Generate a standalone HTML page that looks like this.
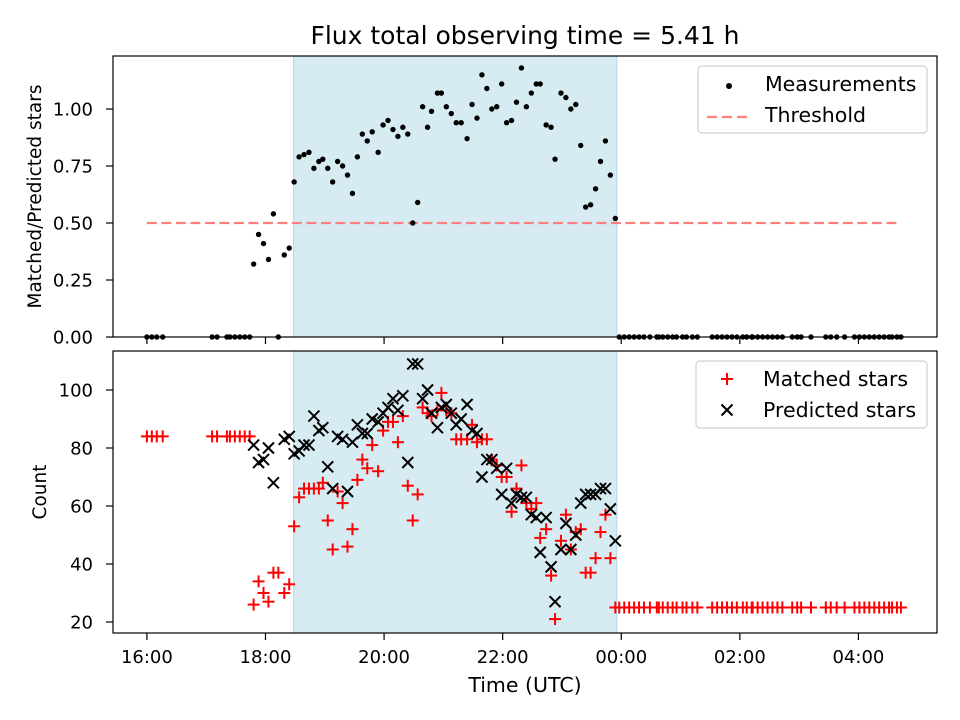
<!DOCTYPE html>
<html><head><meta charset="utf-8">
<style>
body{margin:0;background:#fff;}
svg{display:block;font-family:"DejaVu Sans","Liberation Sans",sans-serif;}
</style></head>
<body>
<svg id="chart" width="960" height="720" viewBox="0 0 960 720" xmlns="http://www.w3.org/2000/svg">
<rect width="960" height="720" fill="#fff"/>
<text x="525" y="44" font-size="25" text-anchor="middle">Flux total observing time = 5.41 h</text>
<g id="topPanel"></g>
<g id="bottomPanel"></g>
</svg>
<script>
// minutes since 16:00
const preTimes = [0,5,10,16,66,71,81,84,89,94,99,104];
const preMatched = [84,84,84,84,84,84,84,84,84,84,84,84];
const nightTimes = [108,113,118,123,128,133,139,144,149,154,159,164,169,174,178,183,188,193,198,203,208,213,218,223,228,234,239,244,249,254,259,264,269,274,279,284,288,294,298,303,308,313,318,324,329,334,339,344,349,354,359,364,369,374,379,384,389,394,398,404,409,413,419,424,429,434,439,444,449,454,459,464,469,474];
const nightRatio = [0.32,0.45,0.41,0.34,0.54,0,0.36,0.39,0.68,0.79,0.80,0.81,0.74,0.77,0.78,0.74,0.68,0.77,0.75,0.71,0.63,0.79,0.89,0.86,0.90,0.81,0.93,0.95,0.91,0.88,0.92,0.89,0.50,0.59,1.01,0.92,0.99,1.07,1.07,1.01,0.98,0.94,0.94,0.87,1.02,0.96,1.15,1.09,1.00,1.01,1.11,0.94,0.95,1.03,1.18,1.01,1.07,1.11,1.11,0.93,0.92,0.78,1.07,1.05,1.00,1.02,0.84,0.57,0.58,0.65,0.77,0.86,0.71,0.52];
const nightMatched = [26,34,30,27,37,37,30,33,53,63,66,66,66,66,68,55,45,65,61,46,52,69,76,73,81,72,86,89,89,82,91,67,55,64,94,92,91,93,99,93,92,83,83,83,88,82,83,83,76,74,70,70,58,66,74,61,59,61,49,52,36,21,48,57,45,51,52,37,37,42,51,57,42,25];
const nightPredicted = [81,75,76,80,68,null,83,84,78,79,81,81,91,86,87,73.5,66,84,83,65,82,88,85,85,90,89,92,94,97,93,98,75,109,109,97,100,92,87,94,95,92,88,90,95,86,85,70,76,76,73,64,73,61,64,63,63,57,56,44,56,39,27,45,54,45,50,61,64,64,64,66,66,59,48];
const postTimes = [478,483,488,493,498,503,509,516,518,522,527,532,536,542,546,552,557,572,577,582,587,592,597,603,607,612,613,618,623,628,633,638,643,653,658,662,672,687,692,698,706,716,721,726,731,736,741,746,751,754,759,763];
const postMatchedValue = 25;
const xTickMinutes = [0,120,240,360,480,600,720];
const xTickLabels = ["16:00","18:00","20:00","22:00","00:00","02:00","04:00"];
const topTicks = [0,0.25,0.5,0.75,1.0];
const bottomTicks = [20,40,60,80,100];
const threshold = 0.5;
const shadeStart = 148.5, shadeEnd = 475.5;

const NS="http://www.w3.org/2000/svg";
const L=113,R=937;
const xMin=-34.3,xMax=799.5;
const X=m=>L+(m-xMin)/(xMax-xMin)*(R-L);
const T={top:56,bot:337,min:0,max:1.2325};
const B={top:351,bot:633,min:16.2,max:113.45};
const Yt=v=>T.bot-(v-T.min)/(T.max-T.min)*(T.bot-T.top);
const Yb=v=>B.bot-(v-B.min)/(B.max-B.min)*(B.bot-B.top);
function el(p,tag,a){const e=document.createElementNS(NS,tag);for(const k in a)e.setAttribute(k,a[k]);p.appendChild(e);return e;}

const topG=document.getElementById('topPanel'), botG=document.getElementById('bottomPanel');
const allRatioT=[...preTimes,...nightTimes,...postTimes];
const allRatio=[...preTimes.map(()=>0),...nightRatio,...postTimes.map(()=>0)];

function panel(g,P,Y,ticks,fmt,ylabel,showX){
  const sh=el(g,'rect',{x:X(shadeStart),y:P.top,width:X(shadeEnd)-X(shadeStart),height:P.bot-P.top,fill:'#add8e6','fill-opacity':0.5,stroke:'#add8e6'});
  
  
  ticks.forEach(t=>{
    el(g,'line',{x1:L-7,x2:L,y1:Y(t),y2:Y(t),stroke:'#000','stroke-width':1.2});
    const tx=el(g,'text',{x:L-20,y:Y(t)+6.5,'font-size':18,'text-anchor':'end'});tx.textContent=fmt(t);
    
    
  });
  xTickMinutes.forEach((m,i)=>{
    el(g,'line',{x1:X(m),x2:X(m),y1:P.bot,y2:P.bot+7,stroke:'#000','stroke-width':1.2});
    if(showX){const tx=el(g,'text',{x:X(m),y:P.bot+30,'font-size':18,'text-anchor':'middle'});tx.textContent=xTickLabels[i];
      
      }
  });
  const yl=el(g,'text',{transform:`translate(${P===T?41:46},${(P.top+P.bot)/2}) rotate(-90)`,'font-size':18.5,'text-anchor':'middle'});
  yl.textContent=ylabel;
  
  
}
panel(topG,T,Yt,topTicks,t=>t.toFixed(2),'Matched/Predicted stars',false);
panel(botG,B,Yb,bottomTicks,t=>String(t),'Count',true);

const th=el(topG,'line',{x1:X(allRatioT[0]),x2:X(allRatioT[allRatioT.length-1]),y1:Yt(threshold),y2:Yt(threshold),stroke:'#ff7f7f','stroke-width':2.2,'stroke-dasharray':'10,4.5'});


allRatioT.forEach((m,i)=>{
  const c=el(topG,'circle',{cx:X(m),cy:Yt(allRatio[i]),r:2.7,fill:'#000'});
  
  
});
function plus(m,v){const x=X(m),y=Yb(v),g=el(botG,'g',{stroke:'#f00','stroke-width':2});
  
  
  el(g,'line',{x1:x-6,x2:x+6,y1:y,y2:y});el(g,'line',{x1:x,x2:x,y1:y-6,y2:y+6});}
function cross(m,v){const x=X(m),y=Yb(v),g=el(botG,'g',{stroke:'#000','stroke-width':2});
  
  
  el(g,'line',{x1:x-5.5,x2:x+5.5,y1:y-5.5,y2:y+5.5});el(g,'line',{x1:x-5.5,x2:x+5.5,y1:y+5.5,y2:y-5.5});}
preTimes.forEach((m,i)=>plus(m,preMatched[i]));
nightTimes.forEach((m,i)=>plus(m,nightMatched[i]));
postTimes.forEach(m=>plus(m,postMatchedValue));
nightTimes.forEach((m,i)=>{if(nightPredicted[i]!=null)cross(m,nightPredicted[i]);});

[T,B].forEach((P,k)=>{const f=el(k?botG:topG,'rect',{x:L,y:P.top,width:R-L,height:P.bot-P.top,fill:'none',stroke:'#000','stroke-width':1.2});
  
  });

const xl=el(botG,'text',{x:525,y:692,'font-size':20.5,'text-anchor':'middle'});xl.textContent='Time (UTC)';



function legend(g,x,y,w,h,items,name){
  const lg=el(g,'g',{});
  
  
  el(lg,'rect',{x:x,y:y,width:w,height:h,rx:4,fill:'#fff','fill-opacity':0.8,stroke:'#d0d0d0','stroke-width':1.2});
  items.forEach((it,i)=>{
    const cy=y+18+i*31;
    it.draw(lg,x+31,cy);
    const t=el(lg,'text',{x:x+67,y:cy+7,'font-size':20.5});t.textContent=it.label;
    
    
  });
}
legend(topG,698,66,229,67,[
 {label:'Measurements',draw:(g,x,y)=>el(g,'circle',{cx:x,cy:y+2,r:3,fill:'#000'})},
 {label:'Threshold',draw:(g,x,y)=>el(g,'line',{x1:x-22,x2:x+20,y1:y+2,y2:y+2,stroke:'#ff7f7f','stroke-width':2.2,'stroke-dasharray':'10,5'})}
],'top-legend');
legend(botG,696,361,231,67,[
 {label:'Matched stars',draw:(g,x,y)=>{const s=el(g,'g',{stroke:'#f00','stroke-width':2});el(s,'line',{x1:x-6,x2:x+6,y1:y,y2:y});el(s,'line',{x1:x,x2:x,y1:y-6,y2:y+6});}},
 {label:'Predicted stars',draw:(g,x,y)=>{const s=el(g,'g',{stroke:'#000','stroke-width':2});el(s,'line',{x1:x-5.5,x2:x+5.5,y1:y-5.5,y2:y+5.5});el(s,'line',{x1:x-5.5,x2:x+5.5,y1:y+5.5,y2:y-5.5});}}
],'bottom-legend');
</script>
</body></html>
